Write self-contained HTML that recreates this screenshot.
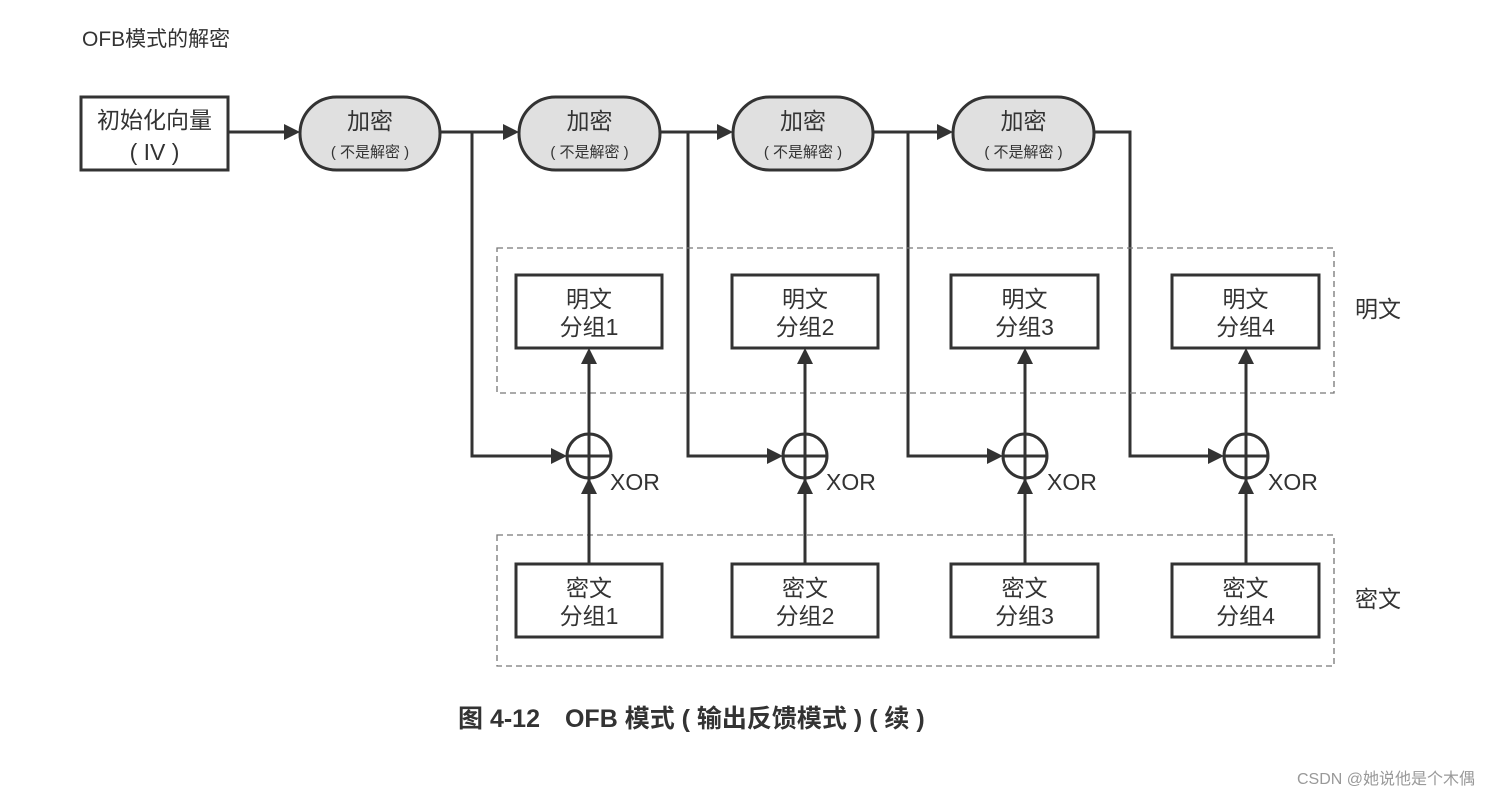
<!DOCTYPE html>
<html><head><meta charset="utf-8"><style>
html,body{margin:0;padding:0;background:#fff;}
svg{display:block;}
text{font-family:"Liberation Sans","Noto Sans CJK SC",sans-serif;fill:#333;}
</style></head><body>
<svg width="1487" height="796" viewBox="0 0 1487 796" xmlns="http://www.w3.org/2000/svg">
<defs>
<marker id="a" viewBox="0 0 10 10" refX="10" refY="5" markerWidth="7" markerHeight="7" orient="auto" markerUnits="userSpaceOnUse">
</marker>
</defs>
<text x="82" y="46" font-size="21">OFB模式的解密</text>

<rect x="81" y="97" width="147" height="73" fill="#fff" stroke="#333" stroke-width="3"/>
<text x="154.5" y="128" font-size="23" text-anchor="middle">初始化向量</text>
<text x="154.5" y="160" font-size="23" text-anchor="middle">( IV )</text>

<g stroke="#333" stroke-width="3" fill="none">
<!-- horizontal top flow -->
<line x1="228" y1="132" x2="288" y2="132"/>
<line x1="440" y1="132" x2="507" y2="132"/>
<line x1="660" y1="132" x2="721" y2="132"/>
<line x1="873" y1="132" x2="941" y2="132"/>
<polyline points="1094,132 1130,132 1130,456 1210,456"/>
<polyline points="472,132 472,456 555,456"/>
<polyline points="688,132 688,456 771,456"/>
<polyline points="908,132 908,456 991,456"/>
</g>
<g fill="#333">
<polygon points="300,132 284,124 284,140"/>
<polygon points="519,132 503,124 503,140"/>
<polygon points="733,132 717,124 717,140"/>
<polygon points="953,132 937,124 937,140"/>
</g>

<g fill="#e0e0e0" stroke="#333" stroke-width="3">
<rect x="300" y="97" width="140" height="73" rx="36.5"/>
<rect x="519" y="97" width="141" height="73" rx="36.5"/>
<rect x="733" y="97" width="140" height="73" rx="36.5"/>
<rect x="953" y="97" width="141" height="73" rx="36.5"/>
</g>
<g font-size="23" text-anchor="middle">
<text x="370" y="129">加密</text><text x="589.5" y="129">加密</text><text x="803" y="129">加密</text><text x="1023.5" y="129">加密</text>
</g>
<g font-size="15" text-anchor="middle">
<text x="370" y="157">( 不是解密 )</text><text x="589.5" y="157">( 不是解密 )</text><text x="803" y="157">( 不是解密 )</text><text x="1023.5" y="157">( 不是解密 )</text>
</g>

<g fill="none" stroke="#777" stroke-width="1.3" stroke-dasharray="6,4">
<rect x="497" y="248" width="837" height="145"/>
<rect x="497" y="535" width="837" height="131"/>
</g>

<g id="cols">
</g>
<!-- columns -->
<g stroke="#333" stroke-width="3" fill="#fff">
<rect x="516" y="275" width="146" height="73"/><rect x="732" y="275" width="146" height="73"/><rect x="951" y="275" width="147" height="73"/><rect x="1172" y="275" width="147" height="73"/>
<rect x="516" y="564" width="146" height="73"/><rect x="732" y="564" width="146" height="73"/><rect x="951" y="564" width="147" height="73"/><rect x="1172" y="564" width="147" height="73"/>
</g>
<g stroke="#333" stroke-width="3" fill="none">
<line x1="589" y1="564" x2="589" y2="360"/><circle cx="589" cy="456" r="22"/><line x1="567" y1="456" x2="611" y2="456"/>
<line x1="805" y1="564" x2="805" y2="360"/><circle cx="805" cy="456" r="22"/><line x1="783" y1="456" x2="827" y2="456"/>
<line x1="1025" y1="564" x2="1025" y2="360"/><circle cx="1025" cy="456" r="22"/><line x1="1003" y1="456" x2="1047" y2="456"/>
<line x1="1246" y1="564" x2="1246" y2="360"/><circle cx="1246" cy="456" r="22"/><line x1="1224" y1="456" x2="1268" y2="456"/>
</g>
<g fill="#333">
<polygon points="589,348 581,364 597,364"/><polygon points="589,478 581,494 597,494"/><polygon points="567,456 551,448 551,464"/>
<polygon points="805,348 797,364 813,364"/><polygon points="805,478 797,494 813,494"/><polygon points="783,456 767,448 767,464"/>
<polygon points="1025,348 1017,364 1033,364"/><polygon points="1025,478 1017,494 1033,494"/><polygon points="1003,456 987,448 987,464"/>
<polygon points="1246,348 1238,364 1254,364"/><polygon points="1246,478 1238,494 1254,494"/><polygon points="1224,456 1208,448 1208,464"/>
</g>
<g font-size="23" text-anchor="middle">
<text x="589" y="307">明文</text><text x="589" y="335">分组1</text>
<text x="805" y="307">明文</text><text x="805" y="335">分组2</text>
<text x="1024.5" y="307">明文</text><text x="1024.5" y="335">分组3</text>
<text x="1245.5" y="307">明文</text><text x="1245.5" y="335">分组4</text>
<text x="589" y="596">密文</text><text x="589" y="624">分组1</text>
<text x="805" y="596">密文</text><text x="805" y="624">分组2</text>
<text x="1024.5" y="596">密文</text><text x="1024.5" y="624">分组3</text>
<text x="1245.5" y="596">密文</text><text x="1245.5" y="624">分组4</text>
</g>
<g font-size="23">
<text x="610" y="490">XOR</text><text x="826" y="490">XOR</text><text x="1047" y="490">XOR</text><text x="1268" y="490">XOR</text>
<text x="1355" y="317">明文</text><text x="1355" y="607">密文</text>
</g>
<text x="458" y="727" font-size="25" font-weight="bold" fill="#333">图 4-12　OFB 模式 ( 输出反馈模式 ) ( 续 )</text>
<text x="1475" y="784" font-size="16" text-anchor="end" style="fill:#999">CSDN @她说他是个木偶</text>
</svg>
</body></html>
